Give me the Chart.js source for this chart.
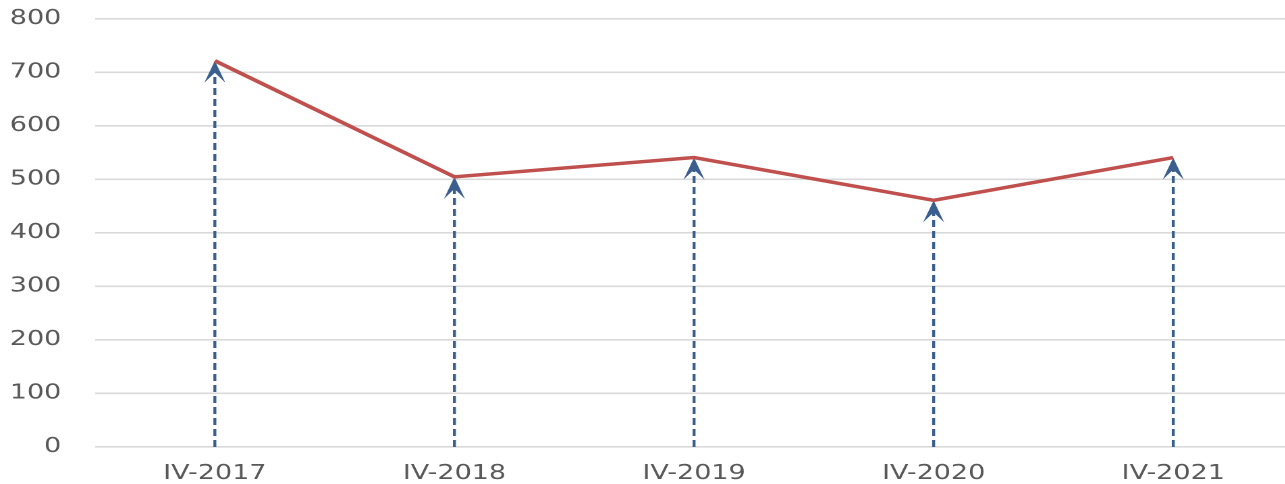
<!DOCTYPE html>
<html>
<head>
<meta charset="utf-8">
<script src="https://cdn.jsdelivr.net/npm/chart.js@4/dist/chart.umd.min.js"></script>
<style>
  html, body { margin: 0; padding: 0; background: #fff; overflow: hidden; }
  #wrap {
    width: 960px;
    height: 484px;
    transform: scaleX(1.35);
    transform-origin: 0 0;
  }
</style>
</head>
<body>
<div id="wrap"><canvas id="chart"></canvas></div>
<script>
const categories = ['IV-2017', 'IV-2018', 'IV-2019', 'IV-2020', 'IV-2021'];
const values = [722, 505, 541, 461, 541];
const yTicks = [0, 100, 200, 300, 400, 500, 600, 700, 800];

const lineColor = '#c0504d';
const arrowColor = '#3a5f8e';

// dashed arrows from 0 up to each point
const arrowPlugin = {
  id: 'arrows',
  beforeDatasetsDraw(chart) {
    const { ctx, scales: { x, y } } = chart;
    const base = y.getPixelForValue(0);
    ctx.save();
    values.forEach((v, i) => {
      const px = x.getPixelForValue(i);
      const py = y.getPixelForValue(v);
      const headH = 22;
      const halfW = 7.8;
      const notch = 12;

      ctx.strokeStyle = arrowColor;
      ctx.lineWidth = 2.2;
      ctx.setLineDash([7, 4]);
      ctx.beginPath();
      ctx.moveTo(px, base);
      ctx.lineTo(px, py + notch);
      ctx.stroke();

      ctx.setLineDash([]);
      ctx.fillStyle = arrowColor;
      ctx.beginPath();
      ctx.moveTo(px, py);
      ctx.lineTo(px + halfW, py + headH);
      ctx.lineTo(px, py + notch);
      ctx.lineTo(px - halfW, py + headH);
      ctx.closePath();
      ctx.fill();
    });
    ctx.restore();
  }
};

new Chart(document.getElementById('chart'), {
  type: 'line',
  data: {
    labels: categories,
    datasets: [{
      data: values,
      borderColor: lineColor,
      borderWidth: 3.5,
      pointRadius: 0,
      tension: 0,
      fill: false
    }]
  },
  options: {
    responsive: true,
    maintainAspectRatio: false,
    animation: false,
    devicePixelRatio: 2,
    layout: { padding: { top: 19, right: 2.2, bottom: 0, left: 0 } },
    plugins: {
      legend: { display: false },
      tooltip: { enabled: false }
    },
    scales: {
      x: {
        offset: true,
        grid: { display: false, drawTicks: false },
        border: { display: false },
        ticks: {
          color: '#595959',
          font: { family: 'DejaVu Sans', size: 20 },
          padding: 15,
          maxRotation: 0
        },
        afterFit(scale) { scale.height = 37; }
      },
      y: {
        min: 0,
        max: 800,
        afterBuildTicks(scale) {
          scale.ticks = yTicks.map(v => ({ value: v }));
        },
        grid: { color: '#d9d9d9', lineWidth: 1.6, drawTicks: false },
        border: { display: false },
        ticks: {
          color: '#595959',
          font: { family: 'DejaVu Sans', size: 20 },
          padding: 25
        },
        afterFit(scale) {
          scale.width = 70.4;
          scale.paddingTop = 0;
          scale.paddingBottom = 0;
        }
      }
    }
  },
  plugins: [arrowPlugin]
});
</script>
</body>
</html>
